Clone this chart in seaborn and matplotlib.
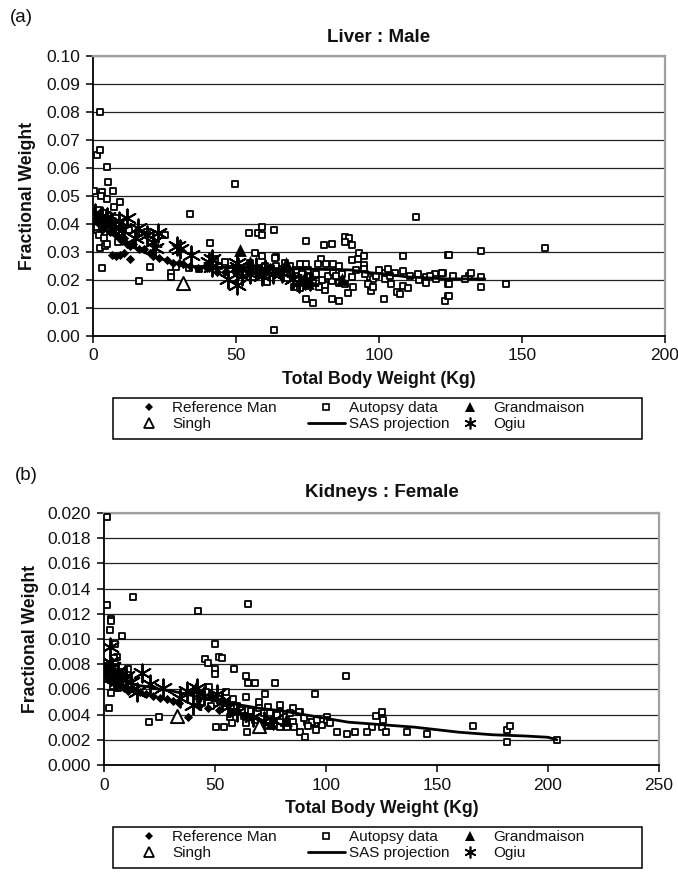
import matplotlib
matplotlib.use("Agg")
import matplotlib.pyplot as plt
from matplotlib.lines import Line2D
from matplotlib.patches import Rectangle
from matplotlib.ticker import FormatStrFormatter, MultipleLocator
import seaborn as sns

# ---------------- (a) Liver : Male ----------------
liver_ref_x = [0.5, 1, 1.5, 2, 2.5, 3, 3.5, 4, 5, 6, 7, 8, 9, 10, 11, 12, 13, 14, 16, 18, 20, 21, 23,
               25.8, 28, 30, 31.5, 34, 36.7, 40, 43.4, 46, 50, 52, 55, 58, 60, 62, 65, 68, 70,
               6.6, 8, 9.5, 11, 13]
liver_ref_y = [0.041, 0.042, 0.043, 0.040, 0.042, 0.038, 0.041, 0.039, 0.040, 0.037, 0.038, 0.036, 0.035,
               0.034, 0.035, 0.033, 0.032, 0.033, 0.031, 0.031, 0.0296, 0.0286, 0.028, 0.027, 0.026, 0.026,
               0.0257, 0.025, 0.0243, 0.0243, 0.0229, 0.023, 0.0225, 0.024, 0.0235, 0.022, 0.023, 0.0245,
               0.0225, 0.0235, 0.0215,
               0.029, 0.0285, 0.029, 0.0295, 0.0275]

liver_aut_x = [1.4, 2.4, 4.9, 5.3, 0.4, 3.2, 6.9, 2.8, 4.8, 9.4, 7.4, 1.0, 2.4, 3.0, 16.2, 20, 34, 33.7, 1, 11.8,
               18.8, 8.8, 4.2, 2.5, 1.3, 12.6, 16.2, 25, 27.3, 27.3, 40.9, 42.7, 54.5, 56.6, 57.7,
               0.8, 1.8, 2.2, 3.5, 4.5, 5.5, 6.2, 7, 8, 9, 10, 2, 3.8, 5, 6, 1.5,
               49.7, 59, 59, 63.3, 59, 64, 63.3, 74.5, 80.8, 83.6, 88, 89.6, 88, 90.5, 112.9, 108.4, 124,
               93, 94.8, 90.6, 92.7, 79.7, 81.5, 83.9, 78.7, 72.4, 94.8, 94.8, 102, 105.6, 108.4, 113.6,
               116.4, 119.6, 122.4, 102, 104.2, 108.4, 110, 106.3, 107.3, 116.4, 124, 123, 124, 101.7,
               97.2, 90.6, 91, 89.2, 83.6, 86, 76.9, 74.5, 81, 79, 81, 83.6, 96.9, 98, 70.3, 72.4, 74.5,
               70.6, 67.8, 60.8, 63.6,
               124.5, 135.7, 158, 122, 131.5, 135.7, 124.5, 135.7, 144.4, 124.5,
               52, 53, 55, 56, 57, 58, 60, 61, 62, 64, 65, 66, 67, 68, 69, 71, 73, 75, 76, 77, 78, 80, 82,
               84, 85, 86, 87, 88, 92, 95, 99, 100, 103, 86, 96, 98, 104, 111, 114, 118, 120, 126, 130, 132,
               37, 29, 44, 46, 48]
liver_aut_y = [0.0646, 0.0664, 0.0604, 0.055, 0.0518, 0.0514, 0.0518, 0.050, 0.049, 0.048, 0.046, 0.0443,
               0.0314, 0.0243, 0.0196, 0.0246, 0.0436, 0.0243, 0.041, 0.038, 0.037, 0.0336, 0.032, 0.080,
               0.038, 0.038, 0.0367, 0.036, 0.0225, 0.021, 0.0332, 0.0275, 0.0368, 0.0296, 0.0367,
               0.043, 0.045, 0.042, 0.044, 0.040, 0.043, 0.041, 0.039, 0.042, 0.040, 0.037, 0.036, 0.035,
               0.033, 0.0375, 0.039,
               0.0543, 0.039, 0.036, 0.038, 0.0286, 0.0282, 0.002, 0.034, 0.0325, 0.033, 0.0354, 0.035,
               0.0336, 0.0325, 0.0425, 0.0286, 0.029, 0.0296, 0.0286, 0.027, 0.0275, 0.0275, 0.0257,
               0.0257, 0.0257, 0.0257, 0.0254, 0.024, 0.0225, 0.0225, 0.0232, 0.0221, 0.0211, 0.0221,
               0.0225, 0.0204, 0.0186, 0.0179, 0.0171, 0.0157, 0.015, 0.019, 0.0186, 0.0125, 0.0143,
               0.0132, 0.016, 0.021, 0.0175, 0.0154, 0.0132, 0.0125, 0.0118, 0.0132, 0.0164, 0.0175,
               0.0182, 0.0196, 0.021, 0.0204, 0.0175, 0.017, 0.0257, 0.0225, 0.0207, 0.0193, 0.028,
               0.029, 0.0304, 0.0314, 0.0225, 0.0214, 0.0211, 0.0186, 0.0175, 0.0186, 0.0143,
               0.024, 0.022, 0.026, 0.021, 0.024, 0.0225, 0.025, 0.0215, 0.023, 0.025, 0.022, 0.024, 0.026,
               0.023, 0.025, 0.0235, 0.022, 0.0235, 0.021, 0.019, 0.022, 0.020, 0.0215, 0.023, 0.0215,
               0.019, 0.022, 0.0185, 0.0235, 0.022, 0.0215, 0.0235, 0.024, 0.025, 0.0185, 0.0175, 0.0215,
               0.0215, 0.020, 0.0215, 0.0205, 0.0215, 0.0205, 0.0225,
               0.024, 0.0245, 0.025, 0.0265, 0.024]

liver_grand_x = [51.4, 55, 67.5, 73.4, 75, 87]
liver_grand_y = [0.0307, 0.0264, 0.026, 0.020, 0.019, 0.0204]

liver_singh_x = [31.5]
liver_singh_y = [0.019]

liver_ogiu_x = [0.7, 2, 3, 4.9, 6, 7.7, 9, 10, 11.8, 14.7, 15.8, 18.8, 21, 21.7, 22.7, 29.4, 30.5, 34.3,
                41.6, 41.6, 40.5, 47.2, 50.3, 50.3, 50.7, 52, 55, 57, 59, 60, 63, 66, 70, 72, 74, 76]
liver_ogiu_y = [0.044, 0.041, 0.043, 0.0425, 0.040, 0.039, 0.041, 0.038, 0.042, 0.035, 0.0386, 0.036,
                0.0336, 0.0314, 0.0368, 0.032, 0.031, 0.029, 0.0275, 0.0246, 0.0265, 0.0204, 0.0182,
                0.026, 0.0245, 0.0215, 0.022, 0.0245, 0.0215, 0.024, 0.022, 0.0225, 0.0205, 0.019,
                0.020, 0.0195]

liver_sas_x = [1, 3, 6, 10, 16, 20, 25, 30, 37, 40, 50, 60, 70, 80, 90, 95, 102, 110, 124, 137]
liver_sas_y = [0.043, 0.040, 0.0368, 0.034, 0.0307, 0.029, 0.0272, 0.0258, 0.0245, 0.0246, 0.0244,
               0.0242, 0.0240, 0.0238, 0.0236, 0.0228, 0.0221, 0.0211, 0.0204, 0.0204]

# ---------------- (b) Kidneys : Female ----------------
kid_ref_x = [0.5, 1, 2, 3, 4, 5, 6, 7, 8, 9, 10, 11, 13, 16, 19, 22, 25, 28.4, 31, 34, 38, 43, 47, 52,
             57, 60, 63, 66]
kid_ref_y = [0.0075, 0.0072, 0.0070, 0.0066, 0.0068, 0.0064, 0.0062, 0.0066, 0.0063, 0.0061, 0.0062,
             0.0059, 0.0060, 0.0058, 0.0056, 0.0055, 0.0053, 0.0052, 0.0051, 0.0049, 0.0038, 0.0047,
             0.0045, 0.0044, 0.0042, 0.0044, 0.0040, 0.0038]

kid_aut_x = [1.4, 1.4, 3.2, 3.3, 2.7, 8.1, 5, 5.9, 13, 2.3, 3.2, 10.8, 20.3, 24.8, 42.3, 64.9, 50, 45.5,
             46.8, 51.8, 53.2, 50, 50, 58.6, 64, 64.9, 68, 77, 109, 47.3, 64, 72.5, 69.8, 79.3, 95, 85,
             88.3, 100.5, 122.5, 125.2, 125.7, 120.7, 50.5, 54, 57.7, 56.8, 79.3, 91.4, 95, 64.4, 64, 68,
             73.9, 76, 79.3, 82.4, 85, 85.6, 87.8, 88.3, 90.5, 93.7, 95.5, 98, 100.5, 105, 109.5, 79.3,
             63, 113, 118.5, 125.2, 127, 136.5, 145.5, 166, 181.5, 183, 181.5, 204,
             1, 2, 3, 4, 5, 6, 7, 8, 9, 2.5, 4.5, 6.5,
             42, 44, 46, 48, 52, 54, 55, 57, 58, 60, 62, 66, 70, 72, 74, 78, 82, 84, 90, 96, 92, 102]
kid_aut_y = [0.0197, 0.0127, 0.0116, 0.0114, 0.0107, 0.0102, 0.0096, 0.0086, 0.0133, 0.0045, 0.0057,
             0.0076, 0.0034, 0.0038, 0.0122, 0.0128, 0.0096, 0.0084, 0.0081, 0.0086, 0.0085, 0.0076,
             0.0072, 0.0076, 0.0071, 0.0065, 0.0065, 0.0065, 0.0071, 0.0062, 0.0054, 0.0056, 0.0050,
             0.0048, 0.0056, 0.0045, 0.0042, 0.0038, 0.0039, 0.0042, 0.0036, 0.0030, 0.0030, 0.0030,
             0.0033, 0.0038, 0.0034, 0.0034, 0.0033, 0.0026, 0.0033, 0.0036, 0.0034, 0.0036, 0.0030,
             0.0030, 0.0034, 0.0030, 0.0042, 0.0026, 0.0022, 0.0034, 0.0028, 0.0032, 0.0036, 0.0026,
             0.0025, 0.0042, 0.0039, 0.0026, 0.0026, 0.0030, 0.0026, 0.0026, 0.0025, 0.0031, 0.0028,
             0.0031, 0.0018, 0.0020,
             0.0075, 0.0068, 0.0072, 0.0063, 0.0078, 0.0070, 0.0065, 0.0074, 0.0069, 0.0080, 0.0085,
             0.0061,
             0.0055, 0.0050, 0.0058, 0.0047, 0.0055, 0.0049, 0.0058, 0.0045, 0.0052, 0.0047, 0.0044,
             0.0043, 0.0045, 0.0041, 0.0046, 0.0040, 0.0038, 0.0041, 0.0037, 0.0036, 0.0031, 0.0033]

kid_grand_x = [41.5, 48, 75, 82]
kid_grand_y = [0.0062, 0.0056, 0.0033, 0.0036]

kid_singh_x = [32.7, 70]
kid_singh_y = [0.0039, 0.0031]

kid_ogiu_x = [2.7, 2.7, 1.5, 3.5, 5, 6.5, 8, 10, 12, 14.8, 17, 20.7, 26.6, 34.2, 37.4, 41.9, 40, 45,
              50.9, 53, 56, 60, 67, 72, 76]
kid_ogiu_y = [0.0094, 0.0082, 0.0073, 0.0078, 0.0070, 0.0075, 0.0068, 0.0071, 0.0066, 0.0058, 0.0073,
              0.0064, 0.0061, 0.0053, 0.0059, 0.0061, 0.0048, 0.0055, 0.0056, 0.0050, 0.0046, 0.0042,
              0.0038, 0.0035, 0.0036]

kid_sas_x = [1, 3, 5, 8, 12, 16, 20, 25, 30, 35, 40, 50, 60, 70, 80, 90, 100, 110, 125, 140, 150, 160,
             175, 190, 200, 204]
kid_sas_y = [0.0078, 0.0074, 0.0071, 0.0068, 0.0065, 0.0063, 0.0062, 0.0060, 0.0059, 0.0057, 0.0055,
             0.0051, 0.0048, 0.0045, 0.0043, 0.0040, 0.0037, 0.0034, 0.0032, 0.0030, 0.0028, 0.0026,
             0.0024, 0.0023, 0.0022, 0.0020]

legend_columns = [['Reference Man', 'Singh'], ['Autopsy data', 'SAS projection'], ['Grandmaison', 'Ogiu']]

sns.set_theme(style="white")
plt.rcParams['font.family'] = ['Liberation Sans', 'DejaVu Sans']

W, H = 678, 882
fig = plt.figure(figsize=(W / 100, H / 100), dpi=100)
fig.patch.set_facecolor('white')

ASTER = (6, 2, 0)


def panel(ax, ref, aut, grand, singh, ogiu, sas):
    sns.scatterplot(x=aut[0], y=aut[1], ax=ax, marker='s', s=20, color='white',
                    edgecolor='black', linewidth=1.3, zorder=3)
    sns.lineplot(x=sas[0], y=sas[1], ax=ax, color='black', linewidth=2.0,
                 estimator=None, sort=False, zorder=4)
    sns.scatterplot(x=ref[0], y=ref[1], ax=ax, marker='D', s=22, color='black',
                    linewidth=0, zorder=5)
    sns.scatterplot(x=ogiu[0], y=ogiu[1], ax=ax, marker=ASTER, s=170, color='black',
                    linewidth=1.4, zorder=5)
    sns.scatterplot(x=grand[0], y=grand[1], ax=ax, marker='^', s=85, color='black',
                    linewidth=0, zorder=6)
    sns.scatterplot(x=singh[0], y=singh[1], ax=ax, marker='^', s=90, color='white',
                    edgecolor='black', linewidth=1.4, zorder=6)


def style(ax, xmax, ymax, ystep, yfmt, ylabel_x):
    ax.set_xlim(0, xmax)
    ax.set_ylim(0, ymax)
    ax.xaxis.set_major_locator(MultipleLocator(50))
    ax.yaxis.set_major_locator(MultipleLocator(ystep))
    ax.yaxis.set_major_formatter(FormatStrFormatter(yfmt))
    ax.set_axisbelow(True)
    ax.yaxis.grid(True, color='#222222', linewidth=0.9)
    ax.xaxis.grid(False)
    for s in ['top', 'right']:
        ax.spines[s].set_color('#a0a0a0')
        ax.spines[s].set_linewidth(1.6)
    for s in ['left', 'bottom']:
        ax.spines[s].set_color('black')
        ax.spines[s].set_linewidth(1.3)
    ax.tick_params(axis='both', direction='out', length=5, width=1.1, color='black',
                   labelsize=12.5, labelcolor='#111111', left=True, bottom=True)
    ax.tick_params(axis='y', pad=4.5)
    ax.tick_params(axis='x', pad=4)
    ax.set_xlabel('Total Body Weight (Kg)', fontsize=12.7, fontweight='bold', color='#111111')
    ax.set_ylabel('Fractional Weight', fontsize=12.7, fontweight='bold', color='#111111')
    ax.yaxis.set_label_coords(ylabel_x, 0.5)


def legend(top_px):
    col_handles = [
        [Line2D([], [], ls='none', marker='D', color='black', ms=4.4, mew=0),
         Line2D([], [], ls='none', marker='^', mfc='white', mec='black', ms=7.5, mew=1.3)],
        [Line2D([], [], ls='none', marker='s', mfc='white', mec='black', ms=4.2, mew=1.2),
         Line2D([], [], color='black', lw=2)],
        [Line2D([], [], ls='none', marker='^', color='black', ms=7.5, mew=0),
         Line2D([], [], ls='none', marker=ASTER, color='black', ms=8.5, mew=1.2)],
    ]
    col_x = [131, 308, 452]
    for hs, labs, x0 in zip(col_handles, legend_columns, col_x):
        leg = fig.legend(hs, labs, loc='upper left',
                         bbox_to_anchor=(x0 / W, 1 - (top_px + 3) / H),
                         bbox_transform=fig.transFigure, fontsize=11,
                         handlelength=2.4, handletextpad=0.3, labelspacing=0.15,
                         borderpad=0, borderaxespad=0, frameon=False)
        for t in leg.get_texts():
            t.set_color('#111111')
    fig.add_artist(Rectangle((113 / W, 1 - (top_px + 41) / H), 529 / W, 41 / H,
                             transform=fig.transFigure, fill=False, edgecolor='black',
                             linewidth=1.1))


# top panel
ax1 = fig.add_axes([93 / W, 1 - 336 / H, 572 / W, 280 / H])
panel(ax1, (liver_ref_x, liver_ref_y), (liver_aut_x, liver_aut_y), (liver_grand_x, liver_grand_y),
      (liver_singh_x, liver_singh_y), (liver_ogiu_x, liver_ogiu_y), (liver_sas_x, liver_sas_y))
style(ax1, 200, 0.10, 0.01, '%.2f', -0.099)
ax1.xaxis.set_label_coords(0.5, -0.125)
ax1.text(0.5, 1.05, 'Liver : Male', transform=ax1.transAxes, ha='center', va='baseline',
         fontsize=13.5, fontweight='bold', color='#111111')
legend(398)

# bottom panel
ax2 = fig.add_axes([104 / W, 1 - 765 / H, 555 / W, 252 / H])
panel(ax2, (kid_ref_x, kid_ref_y), (kid_aut_x, kid_aut_y), (kid_grand_x, kid_grand_y),
      (kid_singh_x, kid_singh_y), (kid_ogiu_x, kid_ogiu_y), (kid_sas_x, kid_sas_y))
style(ax2, 250, 0.020, 0.002, '%.3f', -0.117)
ax2.xaxis.set_label_coords(0.5, -0.138)
ax2.text(0.5, 1.065, 'Kidneys : Female', transform=ax2.transAxes, ha='center', va='baseline',
         fontsize=13.5, fontweight='bold', color='#111111')
legend(827)

fig.text(21 / W, 1 - 18 / H, '(a)', ha='center', va='center', fontsize=13.5, color='#111111')
fig.text(26 / W, 1 - 476 / H, '(b)', ha='center', va='center', fontsize=13.5, color='#111111')

fig.savefig('out.png', dpi=100, facecolor='white')
